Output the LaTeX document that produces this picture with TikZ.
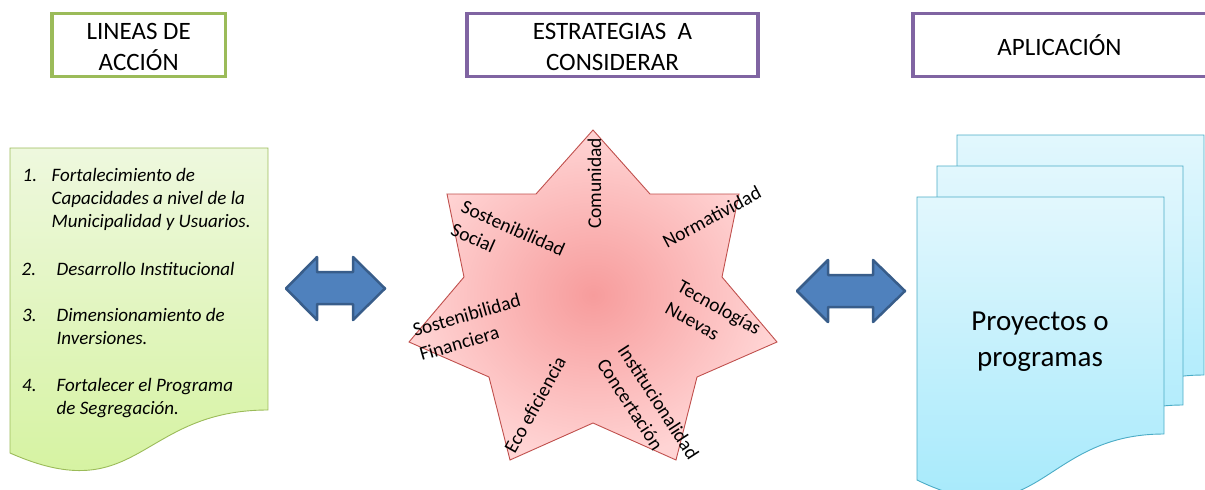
\documentclass[tikz,border=0pt]{standalone}
\usepackage{fontspec}
\setmainfont{Carlito}
\definecolor{hgreen}{HTML}{9BBB59}
\definecolor{hpurple}{HTML}{8064A2}
\definecolor{docgreenT}{HTML}{EEF8DE}
\definecolor{docgreenB}{HTML}{D3F29B}
\definecolor{docgreenL}{HTML}{9BBB59}
\definecolor{docblueT}{HTML}{E2F7FD}
\definecolor{docblueB}{HTML}{9FE8FB}
\definecolor{docblueL}{HTML}{4BACC6}
\definecolor{starin}{HTML}{F79C9C}
\definecolor{starout}{HTML}{FFD4D4}
\definecolor{starline}{HTML}{C0504D}
\definecolor{arrfill}{HTML}{4F81BD}
\definecolor{arrline}{HTML}{385D8A}
\begin{document}
\begin{tikzpicture}[x=1pt,y=-1pt,
  hbox/.style={draw, line width=3.5pt, minimum width=#1, minimum height=63.4pt, inner sep=0pt},
  htext/.style={align=center, inner sep=0pt, font=\fontsize{25}{30.5}\selectfont},
  listtxt/.style={anchor=base west, inner sep=0pt, font=\itshape\fontsize{19}{23}\selectfont},
  starlbl/.style={align=left, inner sep=0pt, font=\fontsize{19.5}{25}\selectfont},
  greendoc/.style={draw=docgreenL, line width=0.9pt, top color=docgreenT, bottom color=docgreenB},
  bluedoc/.style={draw=docblueL, line width=0.9pt, top color=docblueT, bottom color=docblueB},
  starshape/.style={draw=starline, line width=0.9pt, inner color=starin, outer color=starout},
  blockarrow/.style={draw=arrline, fill=arrfill, line width=2.5pt, line join=round}]
\useasboundingbox (0,0) rectangle (1205,490);
\clip (0,0) rectangle (1205,490);

% headers
\node[hbox=173.3pt, draw=hgreen] (h1) at (138.7,45) {};
\node[htext] (h1t) at (138.7,47) {LINEAS DE\\ACCIÓN};
\node[hbox=291pt, draw=hpurple] (h2) at (612.5,45) {};
\node[htext] (h2t) at (612.5,47) {ESTRATEGIAS~~A\\CONSIDERAR};
\node[hbox=295pt, draw=hpurple] (h3) at (1060.5,45) {};
\node[htext] (h3t) at (1059.5,45) {APLICACIÓN};

% left document
\path[greendoc] (10,148) -- (268,148) -- (268,410)
  .. controls (139,410) and (139,510) .. (10,453) -- cycle;
\node[listtxt] (n1) at (22.5,181.7) {1.};
\node[listtxt] (t1a) at (51.5,181.7) {Fortalecimiento de};
\node[listtxt] (t1b) at (51.5,204.5) {Capacidades a nivel de la};
\node[listtxt] (t1c) at (51.5,227) {Municipalidad y Usuarios.};
\node[listtxt] (n2) at (21.5,275) {2.};
\node[listtxt] (t2a) at (56.5,275) {Desarrollo Institucional};
\node[listtxt] (n3) at (22,321.5) {3.};
\node[listtxt] (t3a) at (56.5,321.5) {Dimensionamiento de};
\node[listtxt] (t3b) at (56.5,344.5) {Inversiones.};
\node[listtxt] (n4) at (22,391.5) {4.};
\node[listtxt] (t4a) at (56.5,391.5) {Fortalecer el Programa};
\node[listtxt] (t4b) at (56.5,414.5) {de Segregación.};

% block arrows
\path[blockarrow] (286,288.5) -- (317,257) -- (317,272) -- (353,272) -- (353,257)
  -- (385,288.5) -- (353,320) -- (353,304) -- (317,304) -- (317,320) -- cycle;
\path[blockarrow] (797,291) -- (828,260) -- (828,275) -- (873,275) -- (873,260)
  -- (905,291) -- (873,322) -- (873,307) -- (828,307) -- (828,322) -- cycle;

% star
\path[starshape] (593,130) -- (650,194) -- (739,194) -- (722,277) -- (777,342)
  -- (697,377) -- (676,460) -- (593,423) -- (510,460) -- (489,377) -- (409,342)
  -- (464,277) -- (447,194) -- (536,194) -- cycle;
\node[starlbl, rotate=90] (s1) at (594.3,183.3) {Comunidad};
\node[starlbl, rotate=28] (s2) at (711.7,216.7) {Normatividad};
\node[starlbl, rotate=-24] (s3) at (508.2,239.7) {Sostenibilidad\\Social};
\node[starlbl, rotate=16] (s4) at (470,327) {Sostenibilidad\\Financiera};
\node[starlbl, rotate=-29] (s5) at (713.3,318.2) {Tecnologías\\Nuevas};
\node[starlbl, rotate=61] (s6) at (535,405) {Eco eficiencia};
\node[starlbl, rotate=-57] (s7) at (648.2,408.8) {Institucionalidad\\Concertación};

% right multi-document
\path[bluedoc] (957,135) -- (1204,135) -- (1204,375)
  .. controls (1080.5,375) and (1080.5,481) .. (957,421) -- cycle;
\path[bluedoc] (937,166) -- (1183,166) -- (1183,405)
  .. controls (1060,405) and (1060,511) .. (937,451) -- cycle;
\path[bluedoc] (917,197) -- (1164,197) -- (1164,434)
  .. controls (1040.5,434) and (1040.5,540) .. (917,480) -- cycle;
\node[align=center, inner sep=0pt, font=\fontsize{29}{36}\selectfont] (p) at (1040,342) {Proyectos o\\programas};
\end{tikzpicture}
\end{document}
